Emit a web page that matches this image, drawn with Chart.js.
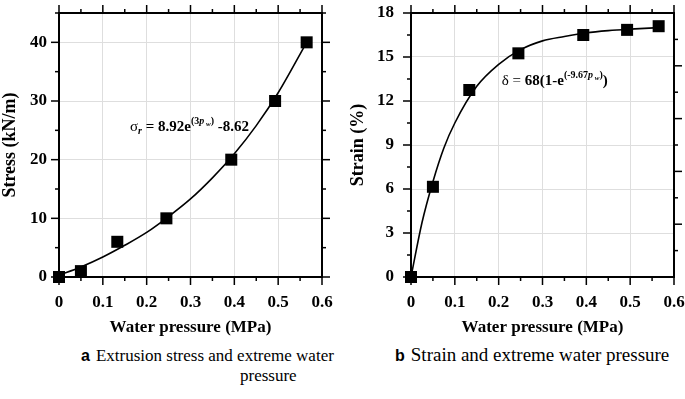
<!DOCTYPE html>
<html>
<head>
<meta charset="utf-8">
<script src="https://cdn.jsdelivr.net/npm/chart.js@4.4.0/dist/chart.umd.min.js"></script>
<style>
  body { margin: 0; background: #fff; width: 685px; height: 399px; position: relative; overflow: hidden; }
  .box { position: absolute; top: 0; height: 342px; }
  #boxA { left: 0; width: 340px; }
  #boxB { left: 340px; width: 345px; }
  .cap { position: absolute; font-family: "Liberation Serif", serif; font-size: 17px; color: #000; white-space: nowrap; line-height: 20px; }
  .cap b { font-family: "Liberation Sans", Arial, sans-serif; font-size: 16px; margin-right: 6px; }
</style>
</head>
<body>
<div class="box" id="boxA"><canvas id="chartA"></canvas></div>
<div class="box" id="boxB"><canvas id="chartB"></canvas></div>
<div class="cap" style="left:81px; top:346px;"><b>a</b>Extrusion stress and extreme water</div>
<div class="cap" style="left:240px; top:366px;">pressure</div>
<div class="cap" style="left:395px; top:345px; font-size:19px;"><b>b</b>Strain and extreme water pressure</div>
<script>
const pressure = [0, 0.05, 0.133, 0.245, 0.393, 0.493, 0.565];
const stress = [0, 1, 6, 10, 20, 30, 40];
const strain = [0, 6.15, 12.75, 15.25, 16.5, 16.85, 17.1];

// fitted curves
const stressFitX = [0, 0.05, 0.1, 0.15, 0.2, 0.25, 0.3, 0.35, 0.4, 0.45, 0.5, 0.565];
const stressFitY = [0.3, 1.7, 3.4, 5.4, 7.6, 10.3, 13.3, 16.9, 21.0, 25.8, 31.4, 40.0];
const strainFitX = [0, 0.025, 0.05, 0.075, 0.1, 0.15, 0.2, 0.25, 0.3, 0.35, 0.4, 0.45, 0.5, 0.565];
const strainFitY = [0, 3.7, 6.5, 8.8, 10.5, 13.0, 14.5, 15.5, 16.1, 16.4, 16.65, 16.8, 16.9, 17.0];

// tick marks
const xMajor = [0, 0.1, 0.2, 0.3, 0.4, 0.5, 0.6];
const xMinor = [0.05, 0.15, 0.25, 0.35, 0.45, 0.55];
const stressMajor = [0, 10, 20, 30, 40];
const stressMinor = [5, 15, 25, 35, 45];
const strainMajor = [0, 3, 6, 9, 12, 15, 18];
const strainMinor = [1.5, 4.5, 7.5, 10.5, 13.5, 16.5];
const strainRightLong = [3.6, 7.2, 10.8, 14.4];
const strainRightShort = [1.8, 5.4, 9, 12.6, 16.2];

const SERIF = '"Liberation Serif", "Times New Roman", serif';
const MAJOR_LEN = 8;
const MINOR_LEN = 4;

function toXY(xs, ys) {
  return xs.map((x, i) => ({ x: x, y: ys[i] }));
}

// keep the plot box fixed: no extra room for overhanging labels
function fixPadding(s) {
  s.paddingLeft = 0;
  s.paddingRight = 0;
  s.paddingTop = 0;
  s.paddingBottom = 0;
}

// frame + outward ticks on all four sides
const framePlugin = {
  id: 'frame',
  afterDatasetsDraw(chart, args, opts) {
    const { ctx, chartArea: a, scales: { x, y } } = chart;
    ctx.save();
    ctx.strokeStyle = '#000';
    const line = (x1, y1, x2, y2, w) => {
      ctx.lineWidth = w;
      ctx.beginPath();
      ctx.moveTo(x1, y1);
      ctx.lineTo(x2, y2);
      ctx.stroke();
    };
    const xTick = (v, len) => {
      const px = x.getPixelForValue(v);
      line(px, a.bottom, px, a.bottom + len, 1.5);
      line(px, a.top, px, a.top - len, 1.5);
    };
    xMajor.forEach(v => xTick(v, MAJOR_LEN));
    xMinor.forEach(v => xTick(v, MINOR_LEN));
    opts.yMajor.forEach(v => line(a.left - MAJOR_LEN, y.getPixelForValue(v), a.left, y.getPixelForValue(v), 1.5));
    opts.yMinor.forEach(v => line(a.left - MINOR_LEN, y.getPixelForValue(v), a.left, y.getPixelForValue(v), 1.5));
    opts.rightLong.forEach(v => line(a.right, y.getPixelForValue(v), a.right + MAJOR_LEN, y.getPixelForValue(v), 1.5));
    opts.rightShort.forEach(v => line(a.right, y.getPixelForValue(v), a.right + MINOR_LEN, y.getPixelForValue(v), 1.5));
    ctx.lineWidth = 2;
    ctx.strokeRect(a.left, a.top, a.right - a.left, a.bottom - a.top);
    ctx.restore();
  }
};

// equation label made of text runs: [text, font, dy]
const equationPlugin = {
  id: 'equation',
  afterDatasetsDraw(chart, args, opts) {
    const { ctx, scales: { x, y } } = chart;
    let px = x.getPixelForValue(opts.x);
    const py = y.getPixelForValue(opts.y);
    ctx.save();
    ctx.fillStyle = '#000';
    ctx.textBaseline = 'alphabetic';
    opts.runs.forEach(r => {
      ctx.font = r[1];
      ctx.fillText(r[0], px, py + (r[2] || 0));
      px += ctx.measureText(r[0]).width;
    });
    ctx.restore();
  }
};

function renderPanel(canvasId, cfg) {
  const canvas = document.getElementById(canvasId);
  return new Chart(canvas, {
    data: {
      datasets: [
        {
          type: 'line',
          data: toXY(cfg.fitX, cfg.fitY),
          borderColor: '#000',
          borderWidth: 1.6,
          pointRadius: 0,
          cubicInterpolationMode: 'monotone',
          fill: false
        },
        {
          type: 'scatter',
          data: toXY(pressure, cfg.values),
          pointStyle: 'rect',
          pointRadius: 8.5,
          backgroundColor: '#000',
          borderWidth: 0,
          clip: false
        }
      ]
    },
    options: {
      responsive: true,
      maintainAspectRatio: false,
      animation: false,
      layout: { padding: { top: 13, right: cfg.padRight, bottom: 2, left: 0 } },
      plugins: {
        legend: { display: false },
        tooltip: { enabled: false },
        frame: { yMajor: cfg.yMajor, yMinor: cfg.yMinor, rightLong: cfg.rightLong, rightShort: cfg.rightShort },
        equation: cfg.equation
      },
      scales: {
        x: {
          type: 'linear',
          min: 0,
          max: 0.6,
          afterFit: s => { s.height = 63; fixPadding(s); },
          afterBuildTicks: s => { s.ticks = xMajor.map(v => ({ value: v })); },
          ticks: {
            color: '#000',
            padding: 15,
            maxRotation: 0,
            font: { family: SERIF, size: 17, weight: 'bold' },
            callback: v => (v === 0 ? '0' : v.toFixed(1))
          },
          grid: { color: '#dedede', lineWidth: 1, drawTicks: false },
          border: { display: false },
          title: {
            display: true,
            text: 'Water pressure (MPa)',
            color: '#000',
            font: { family: SERIF, size: 17, weight: 'bold' },
            padding: { top: 0, bottom: 2 }
          }
        },
        y: {
          type: 'linear',
          min: 0,
          max: cfg.yMax,
          afterFit: s => { s.width = cfg.yWidth; fixPadding(s); },
          afterBuildTicks: s => { s.ticks = cfg.yMajor.map(v => ({ value: v })); },
          ticks: {
            color: '#000',
            padding: cfg.yPad,
            font: { family: SERIF, size: 17, weight: 'bold' }
          },
          grid: { color: '#dedede', lineWidth: 1, drawTicks: false },
          border: { display: false },
          title: {
            display: true,
            text: cfg.yTitle,
            color: '#000',
            font: { family: SERIF, size: 18, weight: 'bold' },
            padding: { top: cfg.yTitlePad, bottom: 0 }
          }
        }
      }
    },
    plugins: [framePlugin, equationPlugin]
  });
}

const bold15 = 'bold 15px ' + SERIF;
const bold10 = 'bold 10px ' + SERIF;

renderPanel('chartA', {
  fitX: stressFitX, fitY: stressFitY, values: stress,
  yMax: 45, yWidth: 59, yPad: 12, yTitlePad: 0, padRight: 18, yTitle: 'Stress (kN/m)',
  yMajor: stressMajor, yMinor: stressMinor,
  rightLong: stressMajor, rightShort: stressMinor,
  equation: {
    x: 0.162, y: 24.85,
    runs: [
      ['\u03c3', '15px ' + SERIF],
      ['r', 'italic bold 10px ' + SERIF, 3],
      [' = 8.92e', bold15],
      ['(3', bold10, -7],
      ['p', 'italic bold 10px ' + SERIF, -7],
      [' w', 'italic bold 7px ' + SERIF, -5],
      [')', bold10, -7],
      [' -8.62', bold15]
    ]
  }
});

renderPanel('chartB', {
  fitX: strainFitX, fitY: strainFitY, values: strain,
  yMax: 18, yWidth: 71, yPad: 17, yTitlePad: 8, padRight: 11, yTitle: 'Strain (%)',
  yMajor: strainMajor, yMinor: strainMinor,
  rightLong: strainRightLong, rightShort: strainRightShort,
  equation: {
    x: 0.207, y: 13.1,
    runs: [
      ['\u03b4 = ', '15px ' + SERIF],
      ['68(1-e', bold15],
      ['(-9.67', bold10, -7],
      ['p', 'italic bold 10px ' + SERIF, -7],
      [' w', 'italic bold 7px ' + SERIF, -5],
      [')', bold10, -7],
      [')', bold15]
    ]
  }
});
</script>
</body>
</html>
